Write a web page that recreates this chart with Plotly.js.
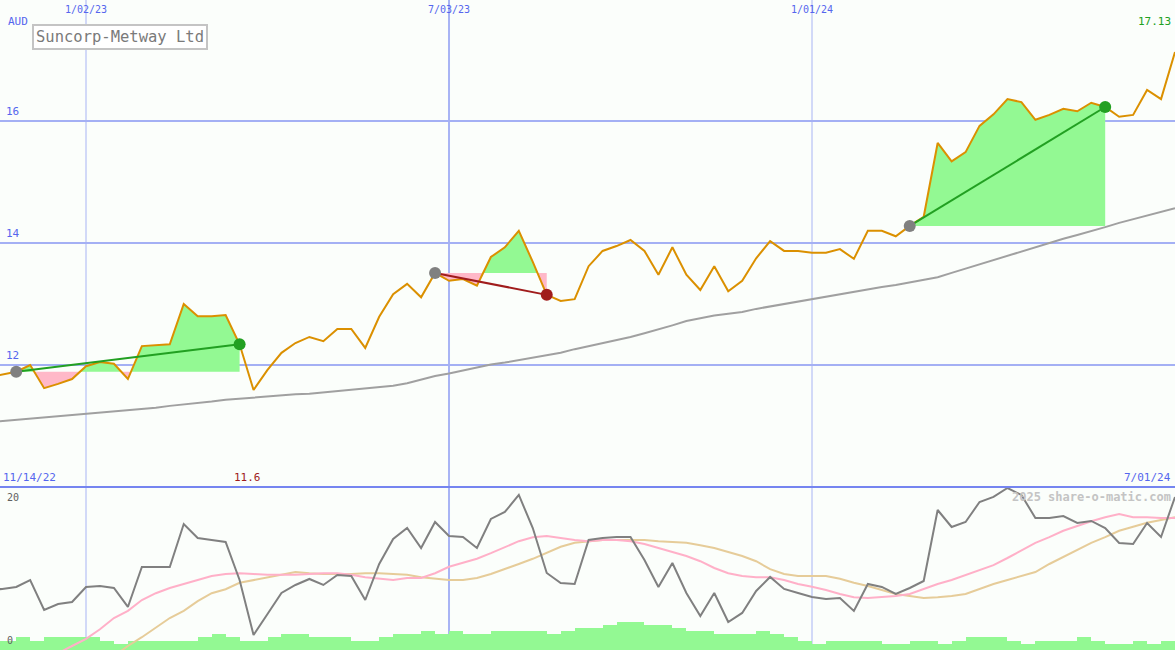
<!DOCTYPE html>
<html><head><meta charset="utf-8">
<script src="https://cdn.plot.ly/plotly-3.0.1.min.js"></script>
<style>html,body{margin:0;padding:0;background:#fbfefb;overflow:hidden}#chart{width:1175px;height:650px}</style>
</head><body><div id="chart"></div>
<script>
// ---- data ----
const startDate = '2022-11-14';   // first weekly bar (Monday)
const weekCount = 86;
const price = [11.80,11.85,11.89,12.00,11.62,11.69,11.77,11.98,12.05,12.02,
  11.77,12.31,12.33,12.34,13.00,12.80,12.80,12.82,12.34,11.59,
  11.92,12.20,12.36,12.46,12.39,12.59,12.59,12.28,12.79,13.16,
  13.33,13.11,13.51,13.38,13.41,13.30,13.77,13.93,14.20,13.69,
  13.15,13.05,13.08,13.62,13.87,13.95,14.05,13.87,13.48,13.93,
  13.48,13.23,13.62,13.21,13.38,13.75,14.03,13.87,13.87,13.84,
  13.84,13.90,13.74,14.20,14.20,14.11,14.28,14.43,15.64,15.34,
  15.49,15.92,16.11,16.36,16.31,16.02,16.10,16.20,16.16,16.30,
  16.23,16.07,16.10,16.51,16.36,17.13];
const movingAvg = [11.06,11.08,11.10,11.12,11.13,11.15,11.17,11.19,11.21,11.23,
  11.25,11.27,11.30,11.33,11.35,11.38,11.40,11.43,11.45,11.47,
  11.48,11.50,11.52,11.53,11.55,11.57,11.60,11.62,11.64,11.66,
  11.70,11.76,11.82,11.86,11.91,11.96,12.01,12.04,12.08,12.12,
  12.16,12.20,12.26,12.31,12.35,12.40,12.46,12.52,12.58,12.65,
  12.72,12.77,12.81,12.84,12.87,12.92,12.96,13.00,13.04,13.08,
  13.12,13.16,13.20,13.25,13.28,13.31,13.35,13.39,13.44,13.51,
  13.58,13.66,13.73,13.80,13.87,13.94,14.01,14.07,14.13,14.19,
  14.26,14.33,14.39,14.45,14.51,14.57];
const oscillator = [7.5,7.63,7.88,8.75,5.0,5.75,6.0,7.88,8.0,7.75,
  5.38,10.38,10.38,10.38,15.75,14.0,13.75,13.5,8.75,1.88,
  4.5,7.13,8.13,8.88,8.13,9.38,9.25,6.25,10.75,13.88,
  15.25,12.75,16.0,14.25,14.13,12.75,16.38,17.25,19.38,15.25,
  9.63,8.38,8.25,13.75,14.0,14.13,14.13,11.25,7.88,10.88,
  7.13,4.25,7.13,3.5,4.63,7.38,9.13,7.63,7.13,6.63,
  6.38,6.5,4.88,8.25,7.88,7.0,7.75,8.63,17.5,15.38,
  16.0,18.5,19.13,20.25,19.38,16.5,16.5,16.75,15.88,16.13,
  15.25,13.38,13.25,15.88,14.13,19.13];
const oscFast = [null,null,null,null,-1.6,-0.4,0.5,1.4,2.6,4.0,
  4.9,6.25,7.1,7.75,8.25,8.75,9.25,9.5,9.6,9.5,
  9.4,9.4,9.4,9.5,9.6,9.6,9.4,9.1,8.9,8.75,
  9.0,9.0,9.6,10.4,10.9,11.4,12.1,12.9,13.6,14.1,
  14.25,14.0,13.75,13.6,13.75,13.75,13.6,13.25,12.75,12.25,
  11.75,11.1,10.25,9.6,9.25,9.1,9.1,8.75,8.25,7.9,
  7.5,7.0,6.6,6.5,6.6,6.75,7.0,7.6,8.25,8.75,
  9.4,10.0,10.6,11.5,12.5,13.4,14.1,14.9,15.5,16.1,
  16.6,17.0,16.6,16.6,16.5,16.5];
const oscSlow = [null,null,null,null,null,null,null,null,null,-0.75,
  0.5,1.6,2.75,4.0,4.9,6.1,7.1,7.6,8.4,8.75,
  9.1,9.4,9.75,9.6,9.5,9.5,9.5,9.6,9.6,9.5,
  9.4,9.1,8.9,8.75,8.75,9.0,9.5,10.1,10.75,11.4,
  12.1,12.9,13.4,13.6,13.75,13.75,13.75,13.75,13.6,13.5,
  13.4,13.1,12.75,12.25,11.75,11.1,10.1,9.5,9.25,9.25,
  9.25,8.9,8.4,8.0,7.5,7.0,6.75,6.5,6.6,6.75,
  7.0,7.6,8.25,8.75,9.25,9.75,10.75,11.6,12.5,13.4,
  14.1,14.9,15.4,15.9,16.25,16.6];
const volume = [3,3,4,3,4,4,4,4,3,2,
  3,3,3,3,3,4,5,4,3,3,
  4,5,5,4,4,4,3,3,4,5,
  5,6,5,6,5,5,6,6,6,6,
  5,6,7,7,8,9,9,8,8,7,
  6,6,5,5,5,6,5,4,3,2,
  3,3,3,3,2,2,3,3,2,3,
  4,4,4,3,2,3,3,3,4,3,
  2,2,3,2,3,3];
const tradeBuy = [2, 32, 66];
const tradeSell = [18, 40, 80];
const priceTicks = [12, 14, 16];
const dateTicks = ['2023-01-02', '2023-07-03', '2024-01-01'];
const dateTickLabels = ['1/02/23', '7/03/23', '1/01/24'];
const oscTicks = [20, 0];
const titleText = 'Suncorp-Metway Ltd';
const currency = 'AUD';
const firstDateLabel = '11/14/22', lastDateLabel = '7/01/24';
const minPriceLabel = '11.6', lastPriceLabel = '17.13';
const credit = '2025 share-o-matic.com';

// ---- helpers ----
const DAY = 86400000;
const t0 = Date.parse(startDate + 'T00:00:00Z');
const fmt = ms => new Date(ms).toISOString().replace('T', ' ').slice(0, 19);
const weekMs = Array.from({length: weekCount}, (_, i) => t0 + i * 7 * DAY);
const dates = weekMs.map(fmt);

const FONT = 'DejaVu Sans Mono, monospace';
const BLUE = '#5566ee';
const GREEN_FILL = '#93f993', PINK_FILL = '#ffb8c8';
const PANEL_SPLIT = 163 / 650;

const traces = [];
// volume bars (bottom panel, y2)
traces.push({type: 'bar', x: dates, y: volume, xaxis: 'x', yaxis: 'y2',
  marker: {color: '#93f993', line: {width: 0}}, width: 7 * DAY, offset: 0,
  hoverinfo: 'skip', showlegend: false});

// trade fill areas
tradeBuy.forEach((b, k) => {
  const s = tradeSell[k];
  const base = price[b];
  const xs = [], up = [], lo = [];
  for (let i = b; i <= s; i++) {
    if (i > b) {
      const p0 = price[i - 1] - base, p1 = price[i] - base;
      if (p0 * p1 < 0) {
        const f = p0 / (p0 - p1);
        xs.push(weekMs[i - 1] + f * (weekMs[i] - weekMs[i - 1]));
        up.push(base); lo.push(base);
      }
    }
    xs.push(weekMs[i]);
    up.push(Math.max(price[i], base));
    lo.push(Math.min(price[i], base));
  }
  const xsF = xs.map(fmt);
  const xPoly = xsF.concat(xsF.slice().reverse());
  const baseArr = xs.map(() => base);
  traces.push({type: 'scatter', mode: 'none', x: xPoly, y: up.concat(baseArr.slice().reverse()),
    fill: 'toself', fillcolor: GREEN_FILL, hoverinfo: 'skip', showlegend: false});
  traces.push({type: 'scatter', mode: 'none', x: xPoly, y: lo.concat(baseArr.slice().reverse()),
    fill: 'toself', fillcolor: PINK_FILL, hoverinfo: 'skip', showlegend: false});
});

// moving average and price
traces.push({type: 'scatter', mode: 'lines', x: dates, y: movingAvg,
  line: {color: '#a0a0a0', width: 2}, hoverinfo: 'skip', showlegend: false});
traces.push({type: 'scatter', mode: 'lines', x: dates, y: price,
  line: {color: '#db9000', width: 2}, hoverinfo: 'skip', showlegend: false});

// trade lines and markers
tradeBuy.forEach((b, k) => {
  const s = tradeSell[k];
  const win = price[s] >= price[b];
  const col = win ? '#22a022' : '#a01c1c';
  traces.push({type: 'scatter', mode: 'lines', x: [dates[b], dates[s]], y: [price[b], price[s]],
    line: {color: col, width: 2}, hoverinfo: 'skip', showlegend: false});
  traces.push({type: 'scatter', mode: 'markers', x: [dates[b]], y: [price[b]],
    marker: {color: '#808080', size: 12}, hoverinfo: 'skip', showlegend: false});
  traces.push({type: 'scatter', mode: 'markers', x: [dates[s]], y: [price[s]],
    marker: {color: col, size: 12}, hoverinfo: 'skip', showlegend: false});
});

// oscillator lines (bottom panel, y3 overlaying y2)
traces.push({type: 'scatter', mode: 'lines', x: dates, y: oscSlow, xaxis: 'x', yaxis: 'y3',
  line: {color: '#e6cc99', width: 2}, hoverinfo: 'skip', showlegend: false});
traces.push({type: 'scatter', mode: 'lines', x: dates, y: oscFast, xaxis: 'x', yaxis: 'y3',
  line: {color: '#ffb0c8', width: 2}, hoverinfo: 'skip', showlegend: false});
traces.push({type: 'scatter', mode: 'lines', x: dates, y: oscillator, xaxis: 'x', yaxis: 'y3',
  line: {color: '#808080', width: 2}, hoverinfo: 'skip', showlegend: false});

// shapes: vertical date lines, panel divider
const shapes = dateTicks.map((d, k) => ({type: 'line', xref: 'x', yref: 'paper', x0: d, x1: d, y0: 0, y1: 1,
  line: {color: '#a8b4f4', width: k === 1 ? 2 : 1}, layer: 'below'}));
shapes.push({type: 'line', xref: 'paper', yref: 'paper', x0: 0, x1: 1, y0: PANEL_SPLIT, y1: PANEL_SPLIT,
  line: {color: '#7585f0', width: 2}, layer: 'above'});

const ann = [];
const txt = (o) => ann.push(Object.assign({showarrow: false, font: {family: FONT, size: 10, color: BLUE}}, o));
dateTicks.forEach((d, k) => txt({xref: 'x', yref: 'paper', x: d, y: 1, yanchor: 'top', yshift: -2, xanchor: 'center', text: dateTickLabels[k]}));
priceTicks.forEach(v => txt({xref: 'paper', yref: 'y', x: 0.003, y: v, xanchor: 'left', yanchor: 'bottom', yshift: 1, text: String(v), font: {family: FONT, size: 11, color: BLUE}}));
txt({xref: 'paper', yref: 'paper', x: 0.005, y: 1, yanchor: 'top', yshift: -13, xanchor: 'left', text: currency, font: {family: FONT, size: 11, color: BLUE}});
txt({xref: 'paper', yref: 'paper', x: 0.998, y: 1, yanchor: 'top', yshift: -13, xanchor: 'right', text: lastPriceLabel, font: {family: FONT, size: 11, color: '#22a022'}});
txt({xref: 'paper', yref: 'paper', x: 32 / 1175, y: 1, yanchor: 'top', yshift: -24, xanchor: 'left', text: titleText,
  font: {family: FONT, size: 15.5, color: '#7a7a7a'}, bgcolor: '#ffffff', bordercolor: '#c4c4c4', borderwidth: 2, borderpad: 2});
txt({xref: 'paper', yref: 'paper', x: 0.001, y: PANEL_SPLIT, yanchor: 'bottom', yshift: 1, xanchor: 'left', text: firstDateLabel, font: {family: FONT, size: 11, color: BLUE}});
txt({xref: 'paper', yref: 'paper', x: 247 / 1175, y: PANEL_SPLIT, yanchor: 'bottom', yshift: 1, xanchor: 'center', text: minPriceLabel, font: {family: FONT, size: 11, color: '#a01c1c'}});
txt({xref: 'paper', yref: 'paper', x: 0.998, y: PANEL_SPLIT, yanchor: 'bottom', yshift: 1, xanchor: 'right', text: lastDateLabel, font: {family: FONT, size: 11, color: BLUE}});
txt({xref: 'paper', yref: 'paper', x: 0.998, y: PANEL_SPLIT, yanchor: 'top', yshift: -1, xanchor: 'right', text: '<b>' + credit + '</b>', font: {family: FONT, size: 12, color: '#c4c4c4'}});
oscTicks.forEach(v => txt({xref: 'paper', yref: 'y3', x: 0.004, y: v, xanchor: 'left', yanchor: v > 0 ? 'top' : 'bottom', yshift: v > 0 ? 0 : 2, text: String(v), font: {family: FONT, size: 10, color: '#606060'}}));

const layout = {
  width: 1175, height: 650, margin: {l: 0, r: 0, t: 0, b: 0, pad: 0},
  paper_bgcolor: '#fbfefb', plot_bgcolor: '#fbfefb', showlegend: false, bargap: 0,
  xaxis: {type: 'date', range: ['2022-11-19 21:00', '2024-07-01 00:00'], showgrid: false, zeroline: false,
    showticklabels: false, showline: false, ticks: '', fixedrange: true},
  yaxis: {domain: [PANEL_SPLIT, 1], range: [10, 17.984], tickvals: priceTicks, showticklabels: false,
    gridcolor: '#a4b0f4', gridwidth: 2, zeroline: false, showline: false, ticks: ''},
  yaxis2: {domain: [0, PANEL_SPLIT], range: [0, 51.75], showgrid: false, zeroline: false, showticklabels: false, ticks: ''},
  yaxis3: {overlaying: 'y2', range: [0, 20.375], showgrid: false, zeroline: false, showticklabels: false, ticks: ''},
  shapes: shapes, annotations: ann
};
Plotly.newPlot('chart', traces, layout, {staticPlot: true, displayModeBar: false});
</script></body></html>
